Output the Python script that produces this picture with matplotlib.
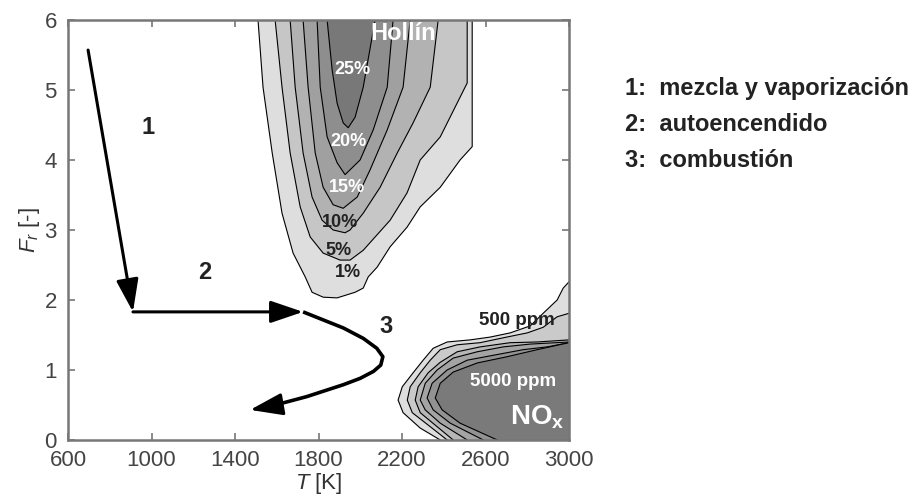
import matplotlib
matplotlib.use("Agg")
import matplotlib.pyplot as plt
from matplotlib.patches import ArrowStyle

plt.rcParams['font.family'] = ['Liberation Sans', 'DejaVu Sans']
plt.rcParams['mathtext.fontset'] = 'custom'
plt.rcParams['mathtext.rm'] = 'Liberation Sans'
plt.rcParams['mathtext.it'] = 'Liberation Sans:italic'
plt.rcParams['mathtext.bf'] = 'Liberation Sans:bold'

# Hollin (soot) contours, outermost first: (T [K], F_r [-]) along each boundary
soot_levels = ['1%', '5%', '10%', '15%', '20%', '25%']
soot_T = [
    [1510, 1534, 1578, 1625, 1678, 1736, 1769, 1822, 1889, 1975, 2014, 2038, 2081,
     2143, 2224, 2287, 2383, 2478, 2536, 2536],
    [1592, 1625, 1664, 1712, 1760, 1822, 1903, 1951, 2014, 2143, 2224, 2287, 2383,
     2512, 2512],
    [1664, 1688, 1726, 1769, 1817, 1870, 1927, 1951, 2014, 2095, 2177, 2253, 2335, 2373],
    [1726, 1750, 1784, 1822, 1870, 1918, 1985, 2047, 2129, 2205, 2239],
    [1793, 1808, 1841, 1889, 1927, 1999, 2062, 2129, 2157],
    [1841, 1865, 1889, 1918, 1942, 1975, 2014, 2071],
]
soot_F = [
    [6.0, 5.04, 4.10, 3.24, 2.67, 2.33, 2.11, 2.04, 2.03, 2.11, 2.17, 2.33, 2.47,
     2.76, 3.04, 3.33, 3.61, 4.0, 4.19, 6.0],
    [6.0, 5.04, 4.10, 3.33, 2.90, 2.67, 2.57, 2.57, 2.71, 3.14, 3.53, 4.0, 4.33,
     5.10, 6.0],
    [6.0, 5.04, 4.10, 3.47, 3.14, 3.0, 2.96, 3.0, 3.24, 3.61, 4.10, 4.53, 5.04, 6.0],
    [6.0, 5.04, 4.10, 3.61, 3.36, 3.31, 3.47, 3.86, 4.43, 5.04, 6.0],
    [6.0, 5.04, 4.33, 3.96, 3.79, 4.0, 4.43, 5.04, 6.0],
    [6.0, 5.29, 4.81, 4.53, 4.46, 4.61, 5.04, 6.0],
]
soot_colors = ['#dedede', '#c6c6c6', '#b2b2b2', '#a0a0a0', '#8e8e8e', '#787878']

# NOx contours, 500 ppm outermost to 5000 ppm innermost
nox_T = [
    [2383, 2287, 2205, 2181, 2201, 2253, 2301, 2349, 2416, 2526, 2622, 2718, 2814,
     2876, 2943, 2972, 3000],
    [2416, 2335, 2249, 2225, 2239, 2287, 2335, 2383, 2464, 2574, 2685, 2800, 2876,
     2943, 3000],
    [2445, 2368, 2287, 2263, 2277, 2325, 2383, 2464, 2574, 2718, 2847, 3000],
    [2512, 2383, 2311, 2287, 2311, 2368, 2445, 2560, 2685, 2814, 3000],
    [2589, 2431, 2349, 2320, 2344, 2416, 2512, 2637, 2780, 2895, 3000],
    [2656, 2478, 2392, 2359, 2383, 2445, 2560, 2704, 2847, 3000],
]
nox_F = [
    [0.0, 0.17, 0.39, 0.57, 0.76, 0.96, 1.14, 1.31, 1.40, 1.43, 1.47, 1.53, 1.63,
     1.81, 2.0, 2.17, 2.26],
    [0.0, 0.19, 0.39, 0.57, 0.76, 0.96, 1.14, 1.29, 1.36, 1.39, 1.46, 1.53, 1.61,
     1.76, 1.81],
    [0.0, 0.19, 0.39, 0.57, 0.76, 0.96, 1.11, 1.26, 1.33, 1.39, 1.40, 1.43],
    [0.0, 0.24, 0.43, 0.57, 0.81, 1.0, 1.17, 1.26, 1.33, 1.37, 1.40],
    [0.0, 0.24, 0.43, 0.60, 0.81, 1.0, 1.14, 1.21, 1.29, 1.33, 1.39],
    [0.0, 0.24, 0.43, 0.60, 0.81, 0.97, 1.10, 1.19, 1.29, 1.39],
]
nox_colors = ['#dedede', '#cacaca', '#b6b6b6', '#a4a4a4', '#929292', '#7a7a7a']

# process path: 1 mezcla, 2 autoencendido, 3 combustion
path1_T = [696, 911]
path1_F = [5.57, 1.83]
path2_T = [911, 1726]
path2_F = [1.83, 1.83]
path3_T = [1726, 1919, 2015, 2079, 2108, 2098, 2063, 1999, 1919, 1744, 1568, 1472]
path3_F = [1.83, 1.60, 1.45, 1.31, 1.19, 1.07, 0.98, 0.88, 0.79, 0.62, 0.48, 0.43]

steps = ['1:  mezcla y vaporización', '2:  autoencendido', '3:  combustión']

xticks = [600, 1000, 1400, 1800, 2200, 2600, 3000]
yticks = [0, 1, 2, 3, 4, 5, 6]

fig = plt.figure(figsize=(9.22, 4.98), dpi=100)
ax = fig.add_axes([0.0738, 0.1165, 0.5434, 0.8434])
ax.set_xlim(600, 3000)
ax.set_ylim(0, 6)

# soot bands are open at the top, close them above the plot area
for T, F, c in zip(soot_T, soot_F, soot_colors):
    ax.fill(T + [T[-1], T[0]], F + [6.5, 6.5], facecolor=c, edgecolor='black',
            linewidth=0.8, zorder=2)

# NOx bands run out through the bottom and right edges
for T, F, c in zip(nox_T, nox_F, nox_colors):
    ax.fill(T + [3100, 3100, T[0]], F + [F[-1], -0.5, -0.5], facecolor=c,
            edgecolor='black', linewidth=0.8, zorder=2)

arrow = ArrowStyle('-|>', head_length=1.0, head_width=0.34)
akw = dict(arrowstyle=arrow, mutation_scale=20, color='black', lw=2.2,
           shrinkA=0, shrinkB=0)
ax.annotate('', xy=(path1_T[1], path1_F[1]), xytext=(path1_T[0], path1_F[0]),
            arrowprops=akw, zorder=5)
ax.annotate('', xy=(path2_T[1], path2_F[1]), xytext=(path2_T[0], path2_F[0]),
            arrowprops=akw, zorder=5)
ax.plot(path3_T[:-1], path3_F[:-1], color='black', lw=2.6, solid_capstyle='butt',
        solid_joinstyle='round', zorder=5)
ax.annotate('', xy=(path3_T[-1], path3_F[-1]), xytext=(path3_T[-2], path3_F[-2]),
            arrowprops=akw, zorder=5)

bold = dict(fontweight='bold', ha='center', va='center', zorder=6)
ax.text(985, 4.46, '1', fontsize=17, color='#222222', **bold)
ax.text(1257, 2.39, '2', fontsize=17, color='#222222', **bold)
ax.text(2125, 1.62, '3', fontsize=17, color='#222222', **bold)

ax.text(2205, 5.8, 'Hollín', fontsize=17, color='white', **bold)
ax.text(1961, 5.29, '25%', fontsize=13, color='white', **bold)
ax.text(1942, 4.26, '20%', fontsize=13, color='white', **bold)
ax.text(1937, 3.60, '15%', fontsize=13, color='white', **bold)
ax.text(1903, 3.11, '10%', fontsize=13, color='#222222', **bold)
ax.text(1894, 2.71, '5%', fontsize=13, color='#222222', **bold)
ax.text(1942, 2.39, '1%', fontsize=13, color='#222222', **bold)
ax.text(2752, 1.71, '500 ppm', fontsize=13.5, color='#222222', **bold)
ax.text(2732, 0.83, '5000 ppm', fontsize=13.5, color='white', **bold)
ax.text(2847, 0.33, r'$\mathbf{NO_x}$', fontsize=20, color='white', **bold)

ax.set_xticks(xticks)
ax.set_yticks(yticks)
ax.tick_params(direction='in', length=5, width=1.2, color='#777777',
               labelsize=16, labelcolor='#444444', top=True, right=True)
ax.tick_params(axis='x', pad=7)
ax.tick_params(axis='y', pad=8)
for s in ax.spines.values():
    s.set_color('#777777')
    s.set_linewidth(1.8)
    s.set_zorder(7)
ax.set_xlabel(r'$T$ [K]', fontsize=16, color='#333333', labelpad=0)
ax.set_ylabel(r'$F_r$ [-]', fontsize=16, color='#333333', labelpad=2)

for i, s in enumerate(steps):
    fig.text(0.678, 0.823 - i * 0.073, s, fontsize=17, fontweight='bold',
             color='#222222', ha='left', va='center')

fig.savefig('out.png', dpi=100)
